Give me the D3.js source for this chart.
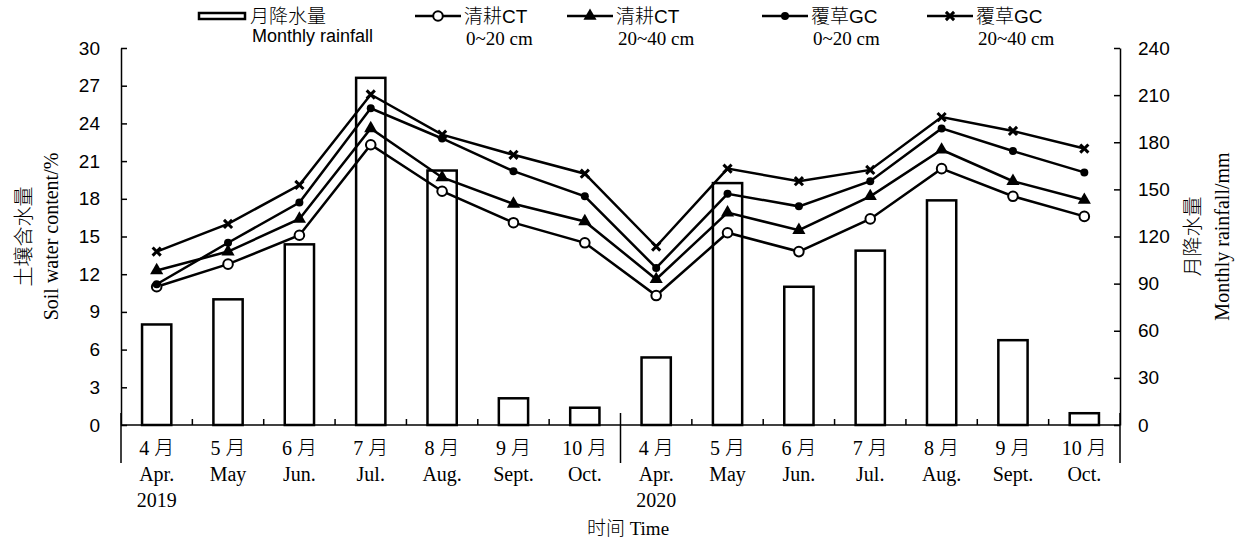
<!DOCTYPE html>
<html>
<head>
<meta charset="utf-8">
<script src="https://cdn.jsdelivr.net/npm/d3@7"></script>
<style>
  body { margin: 0; background: #fff; }
  svg { display: block; }
</style>
</head>
<body>
<script>
'use strict';

// categories (two seasons, April..October)
const monthsZh = ['4 月', '5 月', '6 月', '7 月', '8 月', '9 月', '10 月',
                  '4 月', '5 月', '6 月', '7 月', '8 月', '9 月', '10 月'];
const monthsEn = ['Apr.', 'May', 'Jun.', 'Jul.', 'Aug.', 'Sept.', 'Oct.',
                  'Apr.', 'May', 'Jun.', 'Jul.', 'Aug.', 'Sept.', 'Oct.'];
const yearLabels = ['2019', '', '', '', '', '', '', '2020', '', '', '', '', '', ''];

// monthly rainfall, mm (right axis)
const rainfall = [64, 80, 115, 221, 162, 17, 11, 43, 154, 88, 111, 143, 54, 7.5];

// soil water content, % (left axis)
const ct0_20  = [11.0, 12.8, 15.1, 22.3, 18.6, 16.1, 14.5, 10.3, 15.3, 13.8, 16.4, 20.4, 18.2, 16.6];
const ct20_40 = [12.3, 13.8, 16.4, 23.6, 19.7, 17.6, 16.2, 11.6, 16.9, 15.5, 18.2, 21.9, 19.4, 17.9];
const gc0_20  = [11.2, 14.5, 17.7, 25.2, 22.8, 20.2, 18.2, 12.5, 18.4, 17.4, 19.4, 23.6, 21.8, 20.1];
const gc20_40 = [13.8, 16.0, 19.1, 26.3, 23.1, 21.5, 20.0, 14.2, 20.4, 19.4, 20.3, 24.5, 23.4, 22.0];

const leftTicks = [0, 3, 6, 9, 12, 15, 18, 21, 24, 27, 30];
const rightTicks = [0, 30, 60, 90, 120, 150, 180, 210, 240];

let width = 1249;
let height = 540;
const sans = "'Liberation Sans', Arial, 'Noto Sans CJK SC', sans-serif";
const serif = "'Liberation Serif', 'Times New Roman', 'Noto Sans CJK SC', serif";

let svg = d3.select('body').append('svg')
  .attr('width', width)
  .attr('height', height);

let x = d3.scaleBand().domain(d3.range(monthsZh.length)).range([121, 1120]);
let yL = d3.scaleLinear().domain([0, 30]).range([425, 48]);
let yR = d3.scaleLinear().domain([0, 240]).range([425, 48]);
const cx = (i) => x(i) + x.bandwidth() / 2;
const barW = x.bandwidth() * 0.41;

// rainfall bars
svg.append('g').selectAll('rect')
  .data(rainfall)
  .enter()
  .append('rect')
    .attr('x', (d, i) => cx(i) - barW / 2)
    .attr('y', (d) => yR(d))
    .attr('width', barW)
    .attr('height', (d) => yR(0) - yR(d))
    .attr('fill', '#fff')
    .attr('stroke', '#000')
    .attr('stroke-width', 2.5);

// left axis
let gl = svg.append('g')
  .attr('transform', 'translate(121,0)')
  .call(d3.axisLeft(yL).tickValues(leftTicks).tickSizeInner(-6).tickSizeOuter(0).tickPadding(21));
// right axis
let gr = svg.append('g')
  .attr('transform', 'translate(1120,0)')
  .call(d3.axisRight(yR).tickValues(rightTicks).tickSizeInner(-6).tickSizeOuter(0).tickPadding(18));
[gl, gr].forEach((g) => {
  g.attr('font-family', sans).attr('font-size', 19).attr('color', '#000');
  g.selectAll('path, line').attr('stroke-width', 1.5);
});

// x axis line, inner ticks and group dividers
let gx = svg.append('g').attr('stroke', '#000').attr('stroke-width', 1.5);
gx.append('line')
  .attr('x1', x.range()[0]).attr('x2', x.range()[1])
  .attr('y1', yL(0)).attr('y2', yL(0));
gx.selectAll('line.tick')
  .data(d3.range(1, monthsZh.length).filter((i) => i !== 7))
  .enter()
  .append('line')
    .attr('class', 'tick')
    .attr('x1', (i) => x(i)).attr('x2', (i) => x(i))
    .attr('y1', yL(0) - 6).attr('y2', yL(0));
gx.selectAll('line.divider')
  .data([x(0), x(7), x.range()[1]])
  .enter()
  .append('line')
    .attr('class', 'divider')
    .attr('x1', (d) => d).attr('x2', (d) => d)
    .attr('y1', 413).attr('y2', 463);

// x labels
let gxl = svg.append('g')
  .attr('font-family', serif)
  .attr('font-size', 20)
  .attr('font-weight', 300)
  .attr('text-anchor', 'middle');
[monthsZh, monthsEn, yearLabels].forEach((row, r) => {
  gxl.selectAll('text.r' + r)
    .data(row)
    .enter()
    .append('text')
      .attr('class', 'r' + r)
      .attr('x', (d, i) => cx(i))
      .attr('y', 455 + r * 26)
      .text((d) => d);
});

// axis titles
svg.append('text')
  .attr('x', 628).attr('y', 535)
  .attr('text-anchor', 'middle')
  .attr('font-family', serif).attr('font-size', 19).attr('font-weight', 300)
  .text('时间 Time');

const titleY = (yL(0) + yL(30)) / 2;
[[24, '土壤含水量'], [51, 'Soil water content/%'],
 [1193, '月降水量'], [1222, 'Monthly rainfall/mm']].forEach((t) => {
  svg.append('text')
    .attr('transform', 'translate(' + t[0] + ',' + titleY + ') rotate(-90)')
    .attr('text-anchor', 'middle')
    .attr('dy', '0.35em')
    .attr('font-family', serif)
    .attr('font-size', 20)
    .attr('font-weight', 300)
    .text(t[1]);
});

// series
const series = [
  { values: ct0_20,  marker: 'circle' },
  { values: ct20_40, marker: 'triangle' },
  { values: gc0_20,  marker: 'dot' },
  { values: gc20_40, marker: 'cross' }
];

let line = d3.line()
  .x((d, i) => cx(i))
  .y((d) => yL(d));

function drawMarker(g, type) {
  if (type === 'circle') {
    g.append('circle').attr('r', 4.8).attr('fill', '#fff').attr('stroke', '#000').attr('stroke-width', 2);
  } else if (type === 'dot') {
    g.append('circle').attr('r', 4).attr('fill', '#000');
  } else if (type === 'triangle') {
    g.append('path').attr('d', d3.symbol(d3.symbolTriangle, 75)()).attr('fill', '#000');
  } else {
    g.append('path').attr('d', d3.symbol(d3.symbolTimes, 45)())
      .attr('fill', 'none').attr('stroke', '#000').attr('stroke-width', 3);
  }
}

series.forEach((s) => {
  svg.append('path')
    .datum(s.values)
    .attr('d', line)
    .attr('fill', 'none')
    .attr('stroke', '#000')
    .attr('stroke-width', 2.5);
  svg.append('g').selectAll('g')
    .data(s.values)
    .enter()
    .append('g')
      .attr('transform', (d, i) => 'translate(' + cx(i) + ',' + yL(d) + ')')
      .each(function() { drawMarker(d3.select(this), s.marker); });
});

// legend
let lg = svg.append('g');
lg.append('rect')
  .attr('x', 199).attr('y', 13).attr('width', 46).attr('height', 6)
  .attr('fill', '#fff').attr('stroke', '#000').attr('stroke-width', 2.5);
lg.append('text').attr('x', 250).attr('y', 23)
  .attr('font-family', sans).attr('font-size', 19).attr('font-weight', 300).text('月降水量');
lg.append('text').attr('x', 252).attr('y', 42)
  .attr('font-family', sans).attr('font-size', 18).text('Monthly rainfall');

const legendItems = [
  { x: 415, label: '清耕CT', depth: '0~20 cm', marker: 'circle' },
  { x: 567, label: '清耕CT', depth: '20~40 cm', marker: 'triangle' },
  { x: 762, label: '覆草GC', depth: '0~20 cm', marker: 'dot' },
  { x: 927, label: '覆草GC', depth: '20~40 cm', marker: 'cross' }
];
legendItems.forEach((it) => {
  lg.append('line')
    .attr('x1', it.x).attr('x2', it.x + 46)
    .attr('y1', 16).attr('y2', 16)
    .attr('stroke', '#000').attr('stroke-width', 2.5);
  drawMarker(lg.append('g').attr('transform', 'translate(' + (it.x + 23) + ',16)'), it.marker);
  lg.append('text').attr('x', it.x + 49).attr('y', 23)
    .attr('font-family', sans).attr('font-size', 19).attr('font-weight', 300).text(it.label);
  lg.append('text').attr('x', it.x + 51).attr('y', 45)
    .attr('font-family', serif).attr('font-size', 19).text(it.depth);
});
</script>
</body>
</html>
